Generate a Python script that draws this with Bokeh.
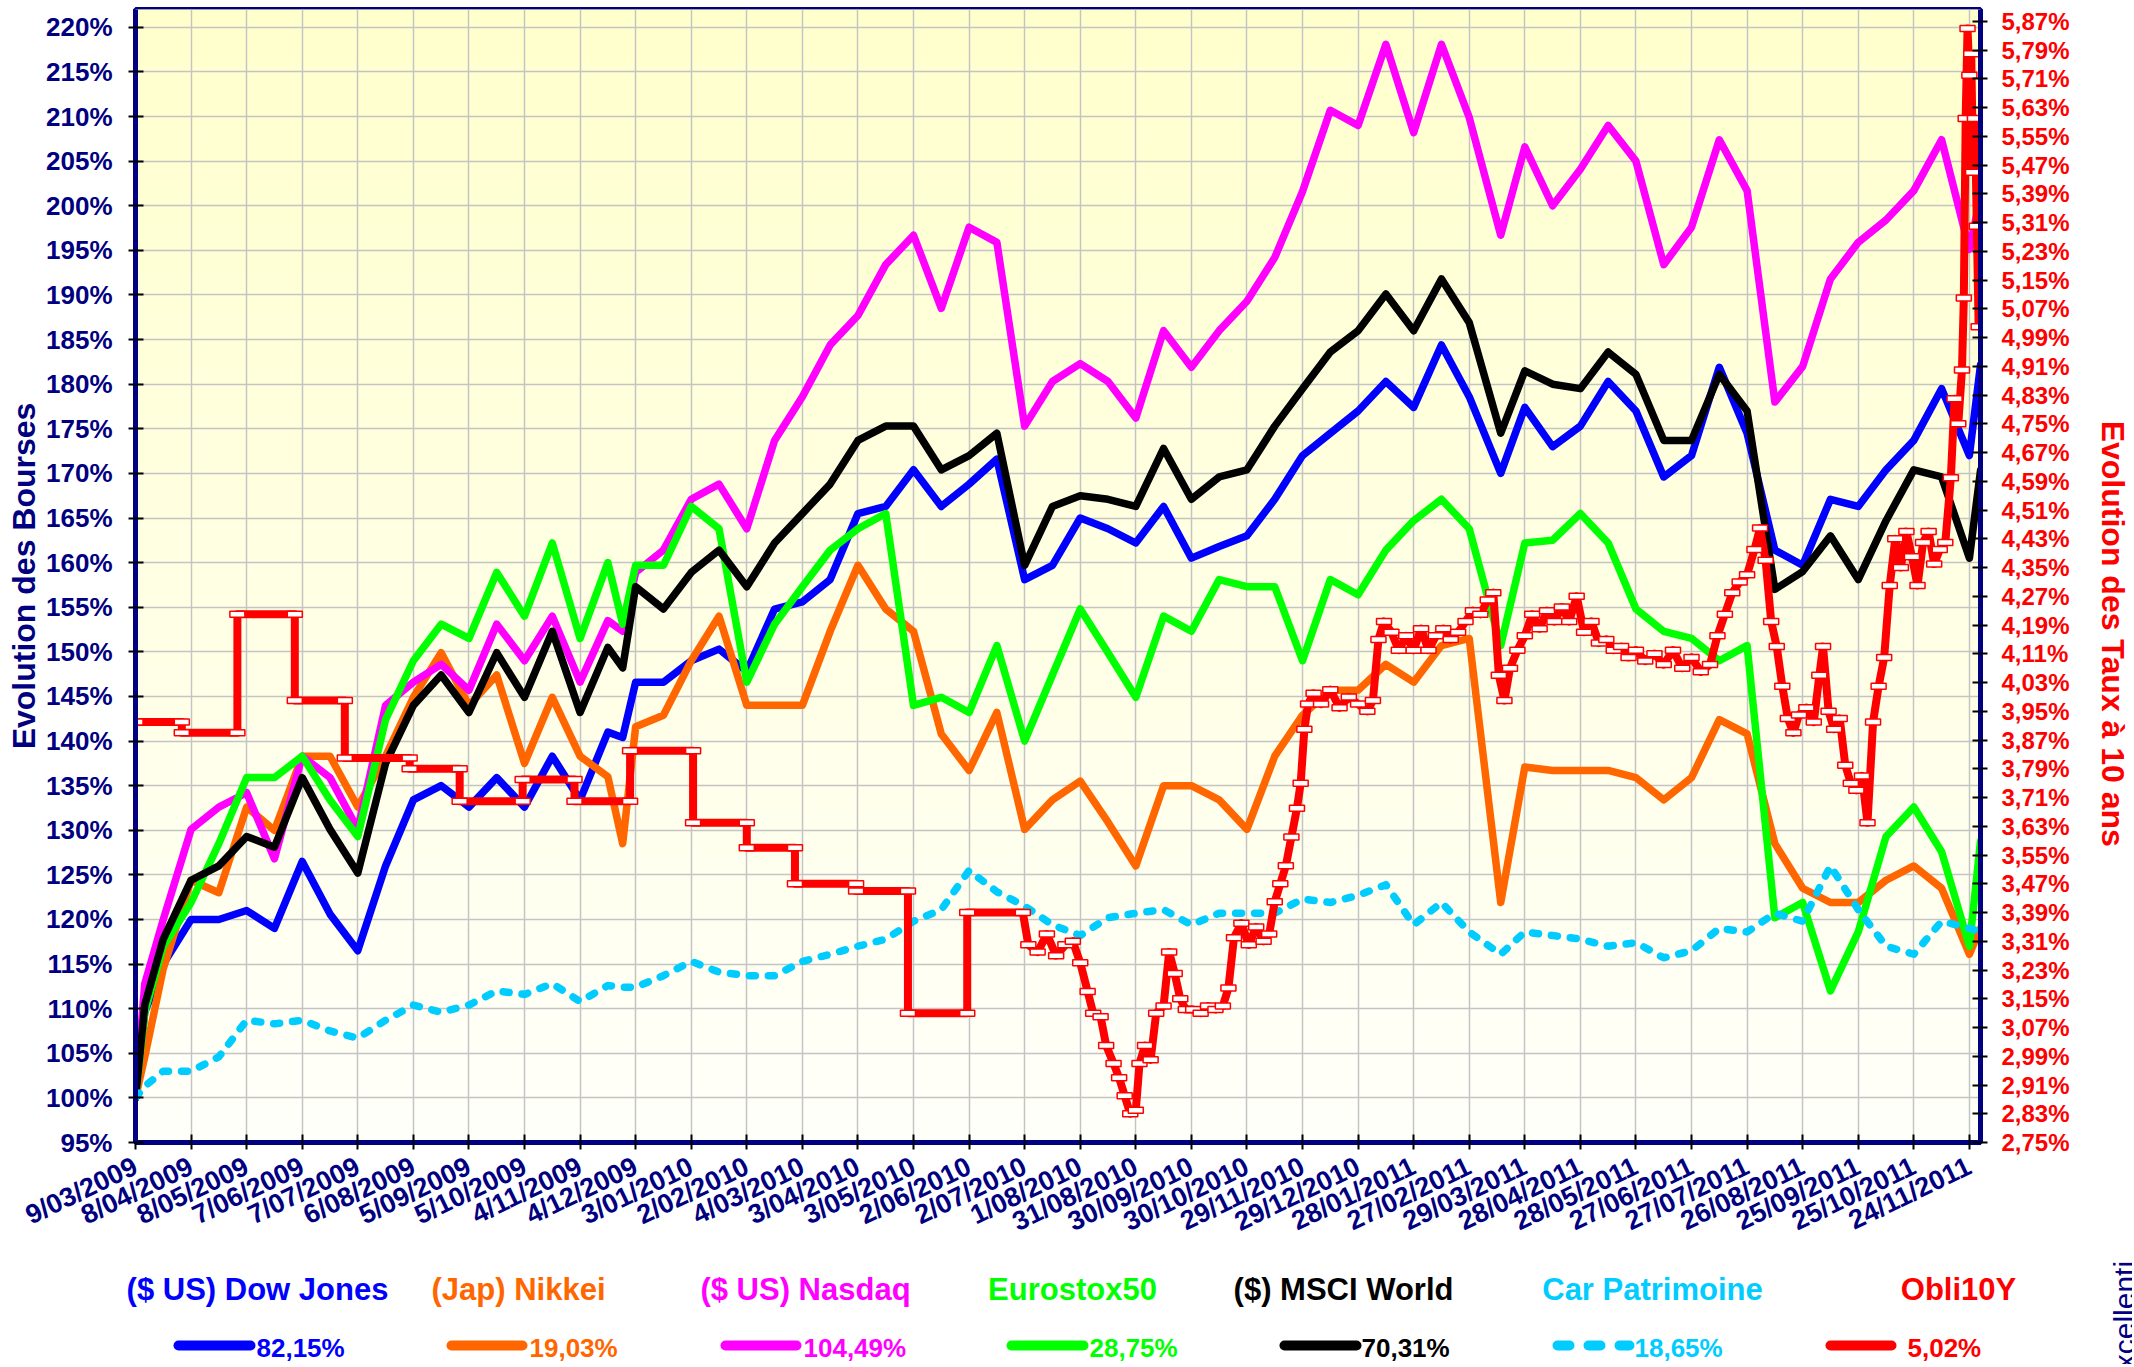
import numpy as np
from bokeh.plotting import figure
from bokeh.models import Range1d, LinearAxis, FixedTicker, Label, CustomJSTickFormatter
from bokeh.layouts import column
from bokeh.embed import file_html
from bokeh.resources import INLINE

# ---------------- data ----------------
# x = days since 9/03/2009
DAYS = [0, 5, 15, 30, 45, 60, 75, 90, 105, 120, 135, 150, 165, 180, 195, 210, 225, 240, 255, 263,
        270, 285, 300, 315, 330, 345, 360, 375, 390, 405, 420, 435, 450, 465, 480, 495, 510, 525,
        540, 555, 570, 585, 600, 615, 630, 645, 660, 675, 690, 705, 720, 737, 750, 765, 780, 795,
        810, 825, 840, 855, 870, 885, 900, 915, 930, 945, 960, 975, 990, 996]

DOW = [100, 109.6, 115, 120, 120, 121, 119, 126.5, 120.6, 116.5, 126, 133.4, 135, 132.6, 135.9, 132.6,
       138.3, 133.4, 141, 140.4, 146.6, 146.6, 149, 150.3, 147.8, 154.8, 155.6, 158.1, 165.5, 166.3,
       170.4, 166.3, 168.8, 171.6, 158.1, 159.7, 165, 163.8, 162.2, 166.3, 160.5, 161.8, 163, 167.1,
       172, 174.5, 177, 180.3, 177.4, 184.4, 178.6, 170, 177.4, 173, 175.3, 180.3, 177, 169.6, 172,
       181.9, 174.5, 161.4, 159.7, 167.1, 166.3, 170.4, 173.7, 179.5, 172, 182.15]

NIKKEI = [100, 104.6, 114.5, 124.4, 123, 132.6, 130, 138.3, 138.3, 132.6, 138.3, 144.9, 149.9, 144,
          147.4, 137.5, 144.9, 138.3, 136, 128.5, 141.6, 142.9, 149, 154, 144, 144, 144, 152.3, 159.7,
          154.8, 152.3, 140.8, 136.7, 143.2, 130.1, 133.4, 135.5, 130.9, 126, 135, 135, 133.4, 130.1,
          138.3, 142.9, 145.7, 145.7, 148.6, 146.6, 150.7, 151.5, 121.9, 137.1, 136.7, 136.7, 136.7,
          135.9, 133.4, 135.9, 142.4, 140.8, 128.5, 123.5, 121.9, 121.9, 124.4, 126, 123.5, 116.1, 119.03]

NASDAQ = [100, 112.8, 120, 130.1, 132.6, 134.2, 126.8, 138.3, 135.9, 130.1, 144, 146.6, 148.6, 145.7,
          153.1, 149, 154, 146.6, 153.5, 152.3, 158.9, 161.4, 167.1, 168.8, 163.8, 173.7, 178.6, 184.4,
          187.7, 193.4, 196.7, 188.5, 197.6, 195.9, 175.3, 180.3, 182.3, 180.3, 176.2, 186, 181.9, 186,
          189.3, 194.2, 201.6, 210.7, 209, 218.1, 208.2, 218.1, 209.9, 196.7, 206.6, 200, 204.1, 209,
          205, 193.4, 197.6, 207.4, 201.7, 178, 182, 191.8, 195.9, 198.4, 201.7, 207.4, 195.1, 201]

EUROSTOX = [100, 109.6, 117, 121.9, 128.5, 135.9, 135.9, 138.3, 133.4, 129.3, 142.4, 149, 153.1, 151.5,
            158.9, 154, 162.2, 151.5, 160, 153.1, 159.7, 159.7, 166.3, 163.8, 146.6, 153.1, 157.3, 161.4,
            163.8, 165.5, 144, 144.9, 143.2, 150.7, 140, 147.4, 154.8, 149.9, 144.9, 154, 152.3, 158.1,
            157.3, 157.3, 149, 158.1, 156.4, 161.4, 164.7, 167.1, 163.8, 150.7, 162.2, 162.5, 165.5,
            162.2, 154.8, 152.3, 151.5, 149, 150.7, 120.2, 121.9, 112, 118.6, 129.3, 132.6, 127.6, 117,
            128.75]

MSCI = [100, 110.4, 117.8, 124.4, 126, 129.3, 128.1, 135.9, 130.1, 125.2, 137.5, 144, 147.4, 143.2,
        149.9, 144.9, 152.3, 143.2, 150.5, 148.2, 157.3, 154.8, 158.9, 161.4, 157.3, 162.2, 165.5, 168.8,
        173.7, 175.3, 175.3, 170.4, 172, 174.5, 159.7, 166.3, 167.5, 167.1, 166.3, 172.8, 167.1, 169.6,
        170.4, 175.3, 179.5, 183.6, 186, 190.1, 186, 191.8, 186.9, 174.5, 181.5, 180, 179.5, 183.6,
        181.1, 173.7, 173.7, 181.1, 177, 157, 159, 163, 158.1, 164.7, 170.4, 169.6, 160.5, 170.31]

CAR_PATRIMOINE = [100, 101.3, 103, 103, 104.6, 108.7, 108.3, 108.7, 107.5, 106.7, 108.7, 110.4, 109.6,
                  110.4, 112, 111.6, 112.8, 110.8, 112.6, 112.4, 112.4, 113.7, 115.3, 114.1, 113.7, 113.7,
                  115.3, 116.1, 117, 117.8, 119.8, 121.1, 125.5, 123.1, 121.5, 119.4, 118.2, 120.2, 120.7,
                  121.1, 119.4, 120.7, 120.7, 120.7, 122.3, 121.9, 122.7, 123.9, 119.4, 121.9, 118.6, 116.1,
                  118.6, 118.2, 117.8, 117, 117.4, 115.7, 116.5, 119, 118.6, 120.7, 119.8, 126, 121.1, 117,
                  116.1, 119.8, 119, 118.65]

# 10-year rate (right axis), own day list
RATE_DAYS = [0, 25, 25, 55, 55, 86, 86, 113, 113, 148, 148, 175, 175, 209, 209, 237, 237, 267, 267, 301,
             301, 330, 330, 356, 356, 389, 389, 417, 417, 449, 449, 479,
             482, 487, 492, 497, 502, 506, 510, 514, 517, 521, 524, 528, 531, 534, 537, 540, 542, 545, 548,
             551, 555, 558, 561, 564, 567, 571, 575, 579, 583, 587, 590, 593, 597, 601, 605, 609, 612, 615,
             618, 621, 624, 627, 629, 631, 633, 636, 640, 645, 650, 655, 660, 665, 668, 671, 674, 678, 682,
             686, 690, 694, 698, 702, 706, 710, 714, 718, 722, 726, 730, 733, 736, 739, 742, 746, 750, 754,
             758, 762, 766, 770, 774, 778, 782, 786, 790, 794, 798, 802, 806, 810, 815, 820, 825, 830, 835,
             840, 845, 850, 854, 858, 862, 866, 870, 874, 877, 880, 883, 886, 889, 892, 895, 898, 902, 906,
             909, 911, 914, 917, 920, 923, 926, 929, 932, 935, 938, 941, 944, 947, 950, 953, 956, 959, 962,
             965, 968, 971, 974, 977, 980, 982, 984, 986, 987, 988, 989, 990, 991, 992, 993, 994, 995]
RATE = [3.92, 3.92, 3.89, 3.89, 4.22, 4.22, 3.98, 3.98, 3.82, 3.82, 3.79, 3.79, 3.70, 3.70, 3.76, 3.76,
        3.70, 3.70, 3.84, 3.84, 3.64, 3.64, 3.57, 3.57, 3.47, 3.47, 3.45, 3.45, 3.11, 3.11, 3.39, 3.39,
        3.30, 3.28, 3.33, 3.27, 3.30, 3.31, 3.25, 3.17, 3.11, 3.10, 3.02, 2.97, 2.93, 2.88, 2.83, 2.84,
        2.97, 3.02, 2.98, 3.11, 3.13, 3.28, 3.22, 3.15, 3.12, 3.12, 3.11, 3.13, 3.12, 3.13, 3.18, 3.32,
        3.36, 3.30, 3.35, 3.31, 3.33, 3.42, 3.47, 3.52, 3.60, 3.68, 3.75, 3.90, 3.97, 4.00, 3.97, 4.01,
        3.96, 3.99, 3.97, 3.95, 3.98, 4.15, 4.20, 4.17, 4.12, 4.16, 4.12, 4.18, 4.12, 4.16, 4.18, 4.15,
        4.17, 4.20, 4.23, 4.22, 4.26, 4.28, 4.05, 3.98, 4.07, 4.12, 4.16, 4.22, 4.18, 4.23, 4.20, 4.24,
        4.20, 4.27, 4.17, 4.20, 4.14, 4.15, 4.12, 4.13, 4.10, 4.12, 4.09, 4.11, 4.08, 4.12, 4.07, 4.10,
        4.06, 4.08, 4.16, 4.22, 4.28, 4.31, 4.33, 4.40, 4.46, 4.37, 4.20, 4.13, 4.02, 3.93, 3.89, 3.94,
        3.96, 3.92, 4.05, 4.13, 3.95, 3.90, 3.93, 3.80, 3.75, 3.73, 3.77, 3.64, 3.92, 4.02, 4.10, 4.30,
        4.43, 4.35, 4.45, 4.38, 4.30, 4.42, 4.45, 4.36, 4.40, 4.42, 4.60, 4.82, 4.75, 4.90, 5.10, 5.60,
        5.85, 5.72, 5.78, 5.45, 5.60, 5.30, 5.02]

X_TICKS = [0, 30, 60, 90, 120, 150, 180, 210, 240, 270, 300, 330, 360, 390, 420, 450, 480, 510, 540, 570,
           600, 630, 660, 690, 720, 750, 780, 810, 840, 870, 900, 930, 960, 990]
X_LABELS = ["9/03/2009", "8/04/2009", "8/05/2009", "7/06/2009", "7/07/2009", "6/08/2009", "5/09/2009",
            "5/10/2009", "4/11/2009", "4/12/2009", "3/01/2010", "2/02/2010", "4/03/2010", "3/04/2010",
            "3/05/2010", "2/06/2010", "2/07/2010", "1/08/2010", "31/08/2010", "30/09/2010", "30/10/2010",
            "29/11/2010", "29/12/2010", "28/01/2011", "27/02/2011", "29/03/2011", "28/04/2011",
            "28/05/2011", "27/06/2011", "27/07/2011", "26/08/2011", "25/09/2011", "25/10/2011",
            "24/11/2011"]
Y_TICKS = [95, 100, 105, 110, 115, 120, 125, 130, 135, 140, 145, 150, 155, 160, 165, 170, 175, 180, 185,
           190, 195, 200, 205, 210, 215, 220]
R_TICKS = [2.75, 2.83, 2.91, 2.99, 3.07, 3.15, 3.23, 3.31, 3.39, 3.47, 3.55, 3.63, 3.71, 3.79, 3.87,
           3.95, 4.03, 4.11, 4.19, 4.27, 4.35, 4.43, 4.51, 4.59, 4.67, 4.75, 4.83, 4.91, 4.99, 5.07, 5.15,
           5.23, 5.31, 5.39, 5.47, 5.55, 5.63, 5.71, 5.79, 5.87]

LEGEND_NAMES = ["($ US) Dow Jones", "(Jap) Nikkei", "($ US) Nasdaq", "Eurostox50", "($) MSCI World",
                "Car Patrimoine", "Obli10Y"]
LEGEND_VALUES = ["82,15%", "19,03%", "104,49%", "28,75%", "70,31%", "18,65%", "5,02%"]
COLORS = ["#0000FF", "#FF6600", "#FF00FF", "#00FF00", "#000000", "#00CCFF", "#FF0000"]

# ---------------- style / layout ----------------
NAVY = "#000080"
FONT = "Liberation Sans"
X_END = 996
Y_LO, Y_HI = 95, 222
R_LO, R_HI = 2.75, 5.903

FRAME_L, FRAME_W, FRAME_T, FRAME_H = 135, 1845, 9, 1133
TOTAL_W, TOTAL_H = 2132, 1364
MAIN_H = 1262
B_RIGHT = TOTAL_W - FRAME_L - FRAME_W
B_BOTTOM = MAIN_H - FRAME_T - FRAME_H
LEG_H = TOTAL_H - MAIN_H

p = figure(frame_width=FRAME_W, frame_height=FRAME_H, x_range=Range1d(0, X_END),
           y_range=Range1d(Y_LO, Y_HI), toolbar_location=None, output_backend="svg",
           min_border_left=FRAME_L, min_border_right=B_RIGHT, min_border_top=FRAME_T,
           min_border_bottom=B_BOTTOM, border_fill_color="white", background_fill_color="white",
           outline_line_color=NAVY, outline_line_width=5)
p.extra_y_ranges = {"rate": Range1d(R_LO, R_HI)}

# background gradient (light yellow at top -> near white at bottom)
N = 64
edges = np.linspace(Y_LO, Y_HI, N + 1)
band_cols = []
for lo, hi in zip(edges[:-1], edges[1:]):
    f = ((lo + hi) / 2 - Y_LO) / (Y_HI - Y_LO)
    b = int(round(250 - 46 * f))
    band_cols.append("#ffff%02x" % b)
p.quad(left=0, right=X_END, bottom=edges[:-1], top=edges[1:], fill_color=band_cols,
       line_color=band_cols, line_width=1, level="image")

p.grid.grid_line_color = "#C4C4C4"
p.grid.grid_line_width = 1.5
p.xgrid.ticker = FixedTicker(ticks=X_TICKS)

xa = p.xaxis[0]
ya = p.yaxis[0]
xa.ticker = FixedTicker(ticks=X_TICKS)
xa.major_label_overrides = {t: lab for t, lab in zip(X_TICKS, X_LABELS)}
xa.major_label_orientation = 0.45
xa.major_label_text_font_size = "27px"
xa.major_label_text_color = NAVY
xa.major_label_standoff = 15

ya.ticker = FixedTicker(ticks=Y_TICKS)
ya.formatter = CustomJSTickFormatter(code="return tick.toFixed(0) + '%';")
ya.major_label_text_font_size = "26px"
ya.major_label_text_color = NAVY
ya.major_label_standoff = 16
ya.axis_label = "Evolution des Bourses"
ya.axis_label_text_color = NAVY
ya.axis_label_text_font_size = "32px"
ya.axis_label_standoff = 1

NB = "\u00a0"
ra = LinearAxis(y_range_name="rate", ticker=FixedTicker(ticks=R_TICKS),
                formatter=CustomJSTickFormatter(code="return tick.toFixed(2).replace('.', ',') + '%';"))
ra.major_label_text_font_size = "24px"
ra.major_label_text_color = "#FF0000"
ra.major_label_standoff = 14
ra.axis_label = NB * 13 + "Evolution des Taux à 10 ans"
ra.axis_label_text_color = "#FF0000"
ra.axis_label_text_font_size = "32px"
ra.axis_label_standoff = 22
p.add_layout(ra, "right")

for ax in (xa, ya, ra):
    ax.axis_line_color = NAVY
    ax.axis_line_width = 5
    ax.major_tick_line_color = "black"
    ax.major_tick_line_width = 2
    ax.major_tick_in = 8
    ax.major_tick_out = 7
    ax.minor_tick_line_color = None
    ax.major_label_text_font = FONT
    ax.major_label_text_font_style = "bold"
    ax.axis_label_text_font = FONT
    ax.axis_label_text_font_style = "bold"

LW = 7.5
for ys, c in zip([DOW, NIKKEI, NASDAQ, EUROSTOX, MSCI], COLORS[:5]):
    p.line(DAYS, ys, line_color=c, line_width=LW, line_join="round", line_cap="round")
p.line(DAYS, CAR_PATRIMOINE, line_color=COLORS[5], line_width=LW, line_join="round", line_cap="round",
       line_dash="6 13")
p.line(RATE_DAYS, RATE, y_range_name="rate", line_color=COLORS[6], line_width=8, line_join="round")
p.rect(RATE_DAYS, RATE, width=15, height=6, width_units="screen", height_units="screen",
       y_range_name="rate", fill_color="white", line_color=COLORS[6], line_width=1.5)

# ---------------- legend strip (frame = whole strip, data = page pixels) ----------------
leg = figure(frame_width=TOTAL_W, frame_height=LEG_H,
             x_range=Range1d(0, TOTAL_W), y_range=Range1d(0, LEG_H),
             toolbar_location=None, output_backend="svg",
             min_border_left=0, min_border_right=0, min_border_top=0, min_border_bottom=0,
             x_axis_location=None, y_axis_location=None, outline_line_color=None,
             background_fill_color="white", border_fill_color="white")
leg.grid.visible = False
for fig in (p, leg):
    if "frame_align" in fig.properties():
        fig.frame_align = False


def ly(page_y):
    return TOTAL_H - page_y


name_x = [257, 518, 805, 1072, 1343, 1652, 1958]
line_x0 = [178, 451, 725, 1011, 1284, 1557, 1830]
line_x1 = [250, 522, 796, 1083, 1356, 1629, 1891]
val_x = [256, 529, 803, 1089, 1361, 1634, 1907]

for i in range(7):
    leg.add_layout(Label(x=name_x[i], y=ly(1289), text=LEGEND_NAMES[i], text_color=COLORS[i],
                         text_font=FONT, text_font_style="bold", text_font_size="31px",
                         text_align="center", text_baseline="middle"))
    leg.add_layout(Label(x=val_x[i], y=ly(1347), text=LEGEND_VALUES[i], text_color=COLORS[i],
                         text_font=FONT, text_font_style="bold", text_font_size="26px",
                         text_align="left", text_baseline="middle"))
    if i == 5:
        leg.line([line_x0[i], line_x1[i]], [ly(1345)] * 2, line_color=COLORS[i], line_width=10,
                 line_cap="round", line_dash="12 19")
    else:
        leg.line([line_x0[i], line_x1[i]], [ly(1345)] * 2, line_color=COLORS[i], line_width=10,
                 line_cap="round")

# credit text, cut by the page edges as in the original
leg.add_layout(Label(x=2124, y=ly(1187), text="Excellentia Life", angle=np.pi / 2, text_align="right",
                     text_baseline="middle", text_font=FONT, text_font_size="30px",
                     text_color=NAVY))

layout = column(p, leg, spacing=0)
open("out.html", "w").write(file_html(layout, INLINE, "Evolution des Bourses"))
